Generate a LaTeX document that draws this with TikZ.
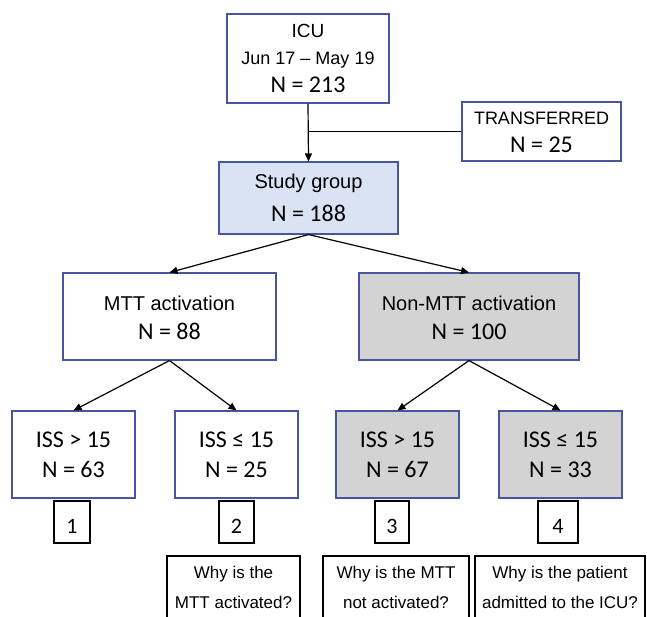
\documentclass[tikz,border=0pt]{standalone}
\usepackage{fontspec}
\setmainfont{Liberation Sans}
\newfontfamily\calfont{Carlito}
\usetikzlibrary{arrows.meta}
\definecolor{bcol}{RGB}{72,86,158}
\definecolor{greyfill}{RGB}{211,211,211}
\definecolor{bluefill}{RGB}{218,227,243}
\tikzset{
  box/.style={draw=bcol, line width=1.1pt, inner sep=0pt, fill=white},
  greybox/.style={box, fill=greyfill},
  bluebox/.style={box, fill=bluefill},
  numbox/.style={draw=black, line width=1.1pt, inner sep=0pt, fill=white},
  qbox/.style={draw=black, line width=1.1pt, inner sep=0pt, fill=white},
  txt/.style={anchor=base, inner sep=0pt},
  arr/.style={draw=black, line width=1.2pt, -{Triangle[length=8pt,width=7pt]}},
  ln/.style={draw=black, line width=1.2pt},
  fA/.style={font=\fontsize{19}{22}\selectfont},
  fB/.style={font=\fontsize{18}{21}\selectfont},
  fC/.style={font=\calfont\fontsize{24}{28}\selectfont},
  fD/.style={font=\fontsize{20}{24}\selectfont},
  fE/.style={font=\calfont\fontsize{22}{26}\selectfont},
  fQ/.style={font=\fontsize{17}{20}\selectfont},
}
\begin{document}
\begin{tikzpicture}[x=1pt,y=-1pt]
\useasboundingbox (0,0) rectangle (647,617);
\clip (0,0) rectangle (647,617);
\fill[white] (0,0) rectangle (647,617);

% boxes
\node[box, minimum width=162pt, minimum height=89pt] (icu) at (308,58.5) {};
\node[box, minimum width=159pt, minimum height=59pt] (trans) at (541.5,131.5) {};
\node[bluebox, minimum width=179pt, minimum height=72pt] (study) at (308.5,198) {};
\node[box, minimum width=213pt, minimum height=87pt] (mtt) at (169.5,316.5) {};
\node[greybox, minimum width=220pt, minimum height=87pt] (nonmtt) at (469,316.5) {};
\node[box, minimum width=123pt, minimum height=87pt] (b1) at (73.5,454.5) {};
\node[box, minimum width=123pt, minimum height=87pt] (b2) at (236.5,454.5) {};
\node[greybox, minimum width=123pt, minimum height=87pt] (b3) at (397.5,454.5) {};
\node[greybox, minimum width=123pt, minimum height=87pt] (b4) at (560.5,454.5) {};
\node[numbox, minimum width=36pt, minimum height=42pt] (n1) at (72,522) {};
\node[numbox, minimum width=35pt, minimum height=42pt] (n2) at (236.5,522) {};
\node[numbox, minimum width=34pt, minimum height=42pt] (n3) at (392,522) {};
\node[numbox, minimum width=40pt, minimum height=42pt] (n4) at (558,522) {};
\node[qbox, minimum width=133pt, minimum height=104pt] (q1) at (233.5,608) {};
\node[qbox, minimum width=146pt, minimum height=104pt] (q2) at (396,608) {};
\node[qbox, minimum width=170pt, minimum height=104pt] (q3) at (560,608) {};

% texts
\node[txt, fA] (t1) at (308,38) {ICU};
\node[txt, fB] (t2) at (308,65) {Jun 17 – May 19};
\node[txt, fC] (t3) at (308,93) {N = 213};
\node[txt, fB] (t4) at (541.5,125) {TRANSFERRED};
\node[txt, fC] (t5) at (541.5,153) {N = 25};
\node[txt, fD] (t6) at (308.5,189) {Study group};
\node[txt, fC] (t7) at (308.5,222) {N = 188};
\node[txt, fD] (t8) at (169.5,310) {MTT activation};
\node[txt, fC] (t9) at (169.5,339) {N = 88};
\node[txt, fD] (t10) at (469,310) {Non-MTT activation};
\node[txt, fC] (t11) at (469,339) {N = 100};
\node[txt, fC] (t12) at (73.5,447) {ISS > 15};
\node[txt, fC] (t13) at (73.5,477) {N = 63};
\node[txt, fC] (t14) at (236.5,447) {ISS ≤ 15};
\node[txt, fC] (t15) at (236.5,477) {N = 25};
\node[txt, fC] (t16) at (397.5,447) {ISS > 15};
\node[txt, fC] (t17) at (397.5,477) {N = 67};
\node[txt, fC] (t18) at (560.5,447) {ISS ≤ 15};
\node[txt, fC] (t19) at (560.5,477) {N = 33};
\node[txt, fE] (t20) at (72,533) {1};
\node[txt, fE] (t21) at (236.5,533) {2};
\node[txt, fE] (t22) at (392,533) {3};
\node[txt, fE] (t23) at (558,533) {4};
\node[txt, fQ] (t24) at (233.5,578) {Why is the};
\node[txt, fQ] (t25) at (233.5,608) {MTT activated?};
\node[txt, fQ] (t26) at (396,578) {Why is the MTT};
\node[txt, fQ] (t27) at (396,608) {not activated?};
\node[txt, fQ] (t28) at (560,578) {Why is the patient};
\node[txt, fQ] (t29) at (560,608) {admitted to the ICU?};

% connectors
\draw[arr] (icu.south) -- (study.north);
\draw[ln] (trans.west) -- (trans.west -| icu.south);
\draw[arr] (study.south) -- (mtt.north);
\draw[arr] (study.south) -- (nonmtt.north);
\draw[arr] (mtt.south) -- (b1.north);
\draw[arr] (mtt.south) -- (b2.north);
\draw[arr] (nonmtt.south) -- (b3.north);
\draw[arr] (nonmtt.south) -- (b4.north);
\end{tikzpicture}
\end{document}
